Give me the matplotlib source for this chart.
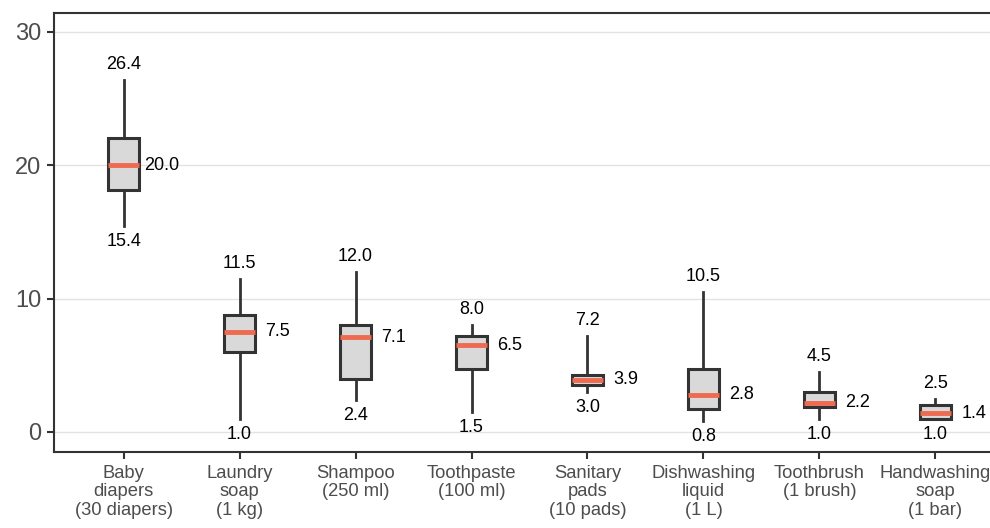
import matplotlib.pyplot as plt

plt.rcParams['font.family'] = ['Liberation Sans', 'DejaVu Sans']

# price spread per product (USD)
products = ['Baby\ndiapers\n(30 diapers)', 'Laundry\nsoap\n(1 kg)', 'Shampoo\n(250 ml)',
            'Toothpaste\n(100 ml)', 'Sanitary\npads\n(10 pads)', 'Dishwashing\nliquid\n(1 L)',
            'Toothbrush\n(1 brush)', 'Handwashing\nsoap\n(1 bar)']
p_min = [15.4, 1.0, 2.4, 1.5, 3.0, 0.8, 1.0, 1.0]
p_q1 = [18.1, 6.0, 4.0, 4.7, 3.5, 1.7, 1.9, 1.0]
p_med = [20.0, 7.5, 7.1, 6.5, 3.9, 2.8, 2.2, 1.4]
p_q3 = [22.0, 8.8, 8.0, 7.2, 4.3, 4.7, 3.0, 2.0]
p_max = [26.4, 11.5, 12.0, 8.0, 7.2, 10.5, 4.5, 2.5]

fig = plt.figure(figsize=(9.9, 5.28), dpi=100)
ax = fig.add_axes([54 / 990, 1 - 452 / 528, (1005 - 54) / 990, (452 - 13) / 528])

stats = []
for i in range(len(products)):
    stats.append(dict(whislo=p_min[i], q1=p_q1[i], med=p_med[i], q3=p_q3[i],
                      whishi=p_max[i], fliers=[]))

pos = list(range(1, len(products) + 1))
ax.bxp(stats, positions=pos, widths=0.27, patch_artist=True, showcaps=False,
       boxprops=dict(facecolor='#D9D9D9', edgecolor='#333333', linewidth=2.2),
       whiskerprops=dict(color='#333333', linewidth=2),
       medianprops=dict(color='#EE6A50', linewidth=3.5, solid_capstyle='butt'))

for x, lo, md, hi in zip(pos, p_min, p_med, p_max):
    ax.annotate(f'{hi:.1f}', (x, hi), xytext=(0, 5), textcoords='offset points',
                ha='center', va='bottom', fontsize=13, color='black')
    ax.annotate(f'{lo:.1f}', (x, lo), xytext=(0, -5), textcoords='offset points',
                ha='center', va='top', fontsize=13, color='black')
    ax.text(x + 0.33, md, f'{md:.1f}', ha='center', va='center', fontsize=13, color='black')

ax.set_xlim(0.4, 8.6)
ax.set_ylim(-1.5, 31.4)
ax.set_yticks([0, 10, 20, 30])
ax.set_xticks(pos)
ax.set_xticklabels(products, fontsize=13.2, color='#4D4D4D', linespacing=1.12)
ax.tick_params(axis='y', labelsize=17, labelcolor='#4D4D4D', color='#333333',
               width=1.5, length=5, pad=4)
ax.tick_params(axis='x', color='#333333', width=1.5, length=5, pad=4)
ax.grid(axis='y', color='#E3E3E3', linewidth=1)
ax.set_axisbelow(True)
for side in ['left', 'bottom', 'top']:
    ax.spines[side].set_color('#333333')
    ax.spines[side].set_linewidth(1.5)
ax.spines['right'].set_visible(False)

fig.savefig('out.png', dpi=100)
